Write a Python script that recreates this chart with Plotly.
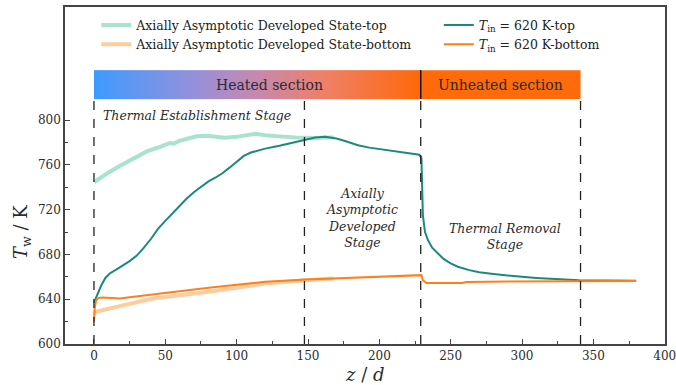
import numpy as np
import plotly.graph_objects as go

# ---- wall temperature profiles along the tube (z/d, K) ----
tin_top_z = [0, 1, 2, 5, 8, 11, 15, 20, 25, 30, 35, 40, 45, 50, 55, 60, 65, 70, 75, 80,
             85, 90, 95, 100, 105, 110, 115, 120, 130, 140, 148, 155, 162, 170, 176, 185,
             193, 200, 209, 220, 228, 229.5, 230.5, 232, 234, 237, 240, 245, 250, 255,
             263, 270, 280, 290, 300, 310, 320, 330, 340, 350, 365, 380]
tin_top_T = [637, 640, 643, 652, 659, 663, 666, 670, 674, 679, 686, 694, 703, 710, 717, 724,
             730, 735.5, 740.5, 745, 748.5, 752.5, 757.5, 763, 768, 771, 773, 774.5, 777,
             780, 782.5, 784.5, 785, 783.5, 781.3, 777.5, 775.4, 774, 772.4, 770.5, 769,
             766, 715, 700, 693, 686, 682, 676, 672, 669, 666, 664, 662.5, 661, 660, 659,
             658, 657.5, 657, 657, 656.5, 656.5]

tin_bot_z = [0, 0.5, 1.5, 3, 6, 10, 14, 18, 25, 41, 65, 79, 100, 120, 149, 175, 200, 216,
             229.5, 230.5, 233, 258, 261, 290, 322, 350, 380]
tin_bot_T = [620, 632, 639, 641, 641.5, 641, 640.5, 640.6, 641.8, 644.4, 648, 650, 653,
             655.5, 657.5, 659, 660.3, 661.3, 661.5, 657, 654.5, 654.5, 655.4, 655.8,
             656.2, 656.3, 656.3]

aads_top_z = [0, 5, 10, 18, 25, 37, 45, 53, 56, 60, 66, 72, 79, 85, 92, 100, 106, 113, 120,
              127, 134, 141, 148, 155, 162, 168]
aads_top_T = [744.5, 749, 753, 759, 764, 772, 775.5, 779.5, 779, 781.5, 783.5, 785.5, 786,
              785, 784.3, 785, 786.5, 787.8, 786.5, 785.5, 785, 784.5, 784, 784, 784.5, 784.5]

aads_bot_z = [0, 1, 18, 41, 79, 100, 120, 148, 168]
aads_bot_T = [627, 628.7, 633.8, 640.6, 646.5, 650.5, 654, 657, 658.5]

# ---- section / stage boundaries (z/d) ----
stage_bounds = [0, 147.5, 229, 341]
heated_end = 229
unheated_end = 341
bar_lo, bar_hi = 818.75, 844.6

x_ticks = [0, 50, 100, 150, 200, 250, 300, 350, 400]
y_ticks = [600, 640, 680, 720, 760, 800]

SERIF = "DejaVu Serif"
TXT = "#2b2b2b"

fig = go.Figure()

# gradient band over the heated section
nseg = 230
edges = np.linspace(0, heated_end, nseg + 1)
fig.add_trace(go.Heatmap(
    x=edges, y=[bar_lo, bar_hi], z=[np.linspace(0, 1, nseg)],
    colorscale=[[0, "#3d9bff"], [0.3, "#9490dc"], [0.5, "#c788ad"],
                [0.7, "#ee8068"], [1, "#ff680a"]],
    showscale=False, zsmooth=False, hoverinfo="skip", showlegend=False))

fig.add_shape(type="rect", x0=heated_end, x1=unheated_end, y0=bar_lo, y1=bar_hi,
              fillcolor="#ff6a0a", line=dict(width=0), layer="below")
fig.add_shape(type="line", x0=heated_end, x1=heated_end, y0=bar_lo, y1=bar_hi,
              line=dict(color="#111111", width=1.5))

for xb in stage_bounds:
    fig.add_shape(type="line", x0=xb, x1=xb, y0=600, y1=bar_lo,
                  line=dict(color="#222222", width=1.3, dash="dash"))

# temperature curves
fig.add_trace(go.Scatter(x=aads_top_z, y=aads_top_T, mode="lines",
                         name="Axially Asymptotic Developed State-top",
                         line=dict(color="#a9e3cf", width=4), legend="legend"))
fig.add_trace(go.Scatter(x=aads_bot_z, y=aads_bot_T, mode="lines",
                         name="Axially Asymptotic Developed State-bottom",
                         line=dict(color="#fdcd9c", width=4), legend="legend"))
fig.add_trace(go.Scatter(x=tin_top_z, y=tin_top_T, mode="lines",
                         name="<i>T</i><sub>in</sub> = 620 K-top",
                         line=dict(color="#1b8a7a", width=2), legend="legend2"))
fig.add_trace(go.Scatter(x=tin_bot_z, y=tin_bot_T, mode="lines",
                         name="<i>T</i><sub>in</sub> = 620 K-bottom",
                         line=dict(color="#ff7f1a", width=2), legend="legend2"))

# section labels
fig.add_annotation(x=123, y=(bar_lo + bar_hi) / 2, text="Heated section", showarrow=False,
                   font=dict(family=SERIF, size=14, color="#2a2a3a"))
fig.add_annotation(x=285, y=(bar_lo + bar_hi) / 2, text="Unheated section", showarrow=False,
                   font=dict(family=SERIF, size=14, color="#2a2a2a"))

# stage labels
stage_font = dict(family=SERIF, size=12.5, color=TXT)
fig.add_annotation(x=72, y=804.5, text="<i>Thermal Establishment Stage</i>",
                   showarrow=False, font=stage_font)
fig.add_annotation(x=188, y=712.5,
                   text="<i>Axially<br>Asymptotic<br>Developed<br>Stage</i>",
                   showarrow=False, font=stage_font)
fig.add_annotation(x=288, y=696, text="<i>Thermal Removal<br>Stage</i>",
                   showarrow=False, font=stage_font)

# axis titles
title_font = dict(family=SERIF, size=18, color=TXT)
fig.add_annotation(xref="paper", yref="paper", x=(365 - 65) / 600, y=-(374 - 344) / 337,
                   text="<i>z</i> / <i>d</i>", showarrow=False, font=title_font,
                   xanchor="center", yanchor="middle")
fig.add_annotation(xref="paper", yref="paper", x=-(65 - 22) / 600, y=(344 - 232) / 337,
                   text="<i>T</i><sub>w</sub> / K", showarrow=False, font=title_font,
                   textangle=-90, xanchor="center", yanchor="middle")

axis_common = dict(showline=True, linecolor="#444444", linewidth=1.5, mirror=True,
                   ticks="inside", ticklen=5, tickwidth=1.2, tickcolor="#444444",
                   showgrid=False, zeroline=False, automargin=False,
                   ticklabeloverflow="allow",
                   tickfont=dict(family=SERIF, size=12, color=TXT))

fig.update_xaxes(range=[-20.3, 400.2], tickvals=x_ticks,
                 minor=dict(tickvals=[25, 75, 125, 175, 225, 275, 325, 375],
                            ticks="inside", ticklen=3, tickcolor="#444444"),
                 **axis_common)
fig.update_yaxes(range=[600, 901], tickvals=y_ticks,
                 minor=dict(tickvals=[620, 660, 700, 740, 780],
                            ticks="inside", ticklen=3, tickcolor="#444444"),
                 **axis_common)

legend_common = dict(bgcolor="rgba(0,0,0,0)", font=dict(family=SERIF, size=12.5, color="#222222"),
                     orientation="v", yanchor="top", xanchor="left", itemwidth=30,
                     tracegroupgap=0)
fig.update_layout(
    width=676, height=385,
    margin=dict(l=65, r=11, t=7, b=41),
    plot_bgcolor="white", paper_bgcolor="white",
    font=dict(family=SERIF),
    legend=dict(x=0.052, y=0.99, **legend_common),
    legend2=dict(x=0.623, y=0.99, **legend_common),
)

fig.write_html("out.html")
